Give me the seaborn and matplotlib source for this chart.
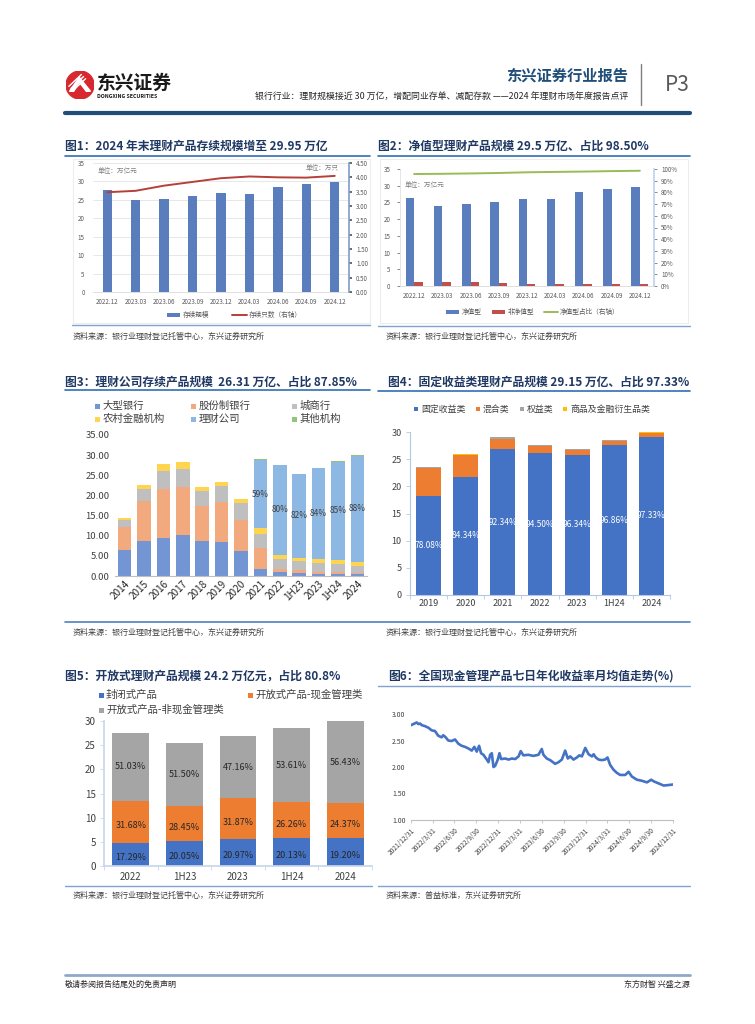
import numpy as np
import pandas as pd
import matplotlib
matplotlib.use('Agg')
import matplotlib.pyplot as plt
import seaborn as sns
from matplotlib.patches import Rectangle, Circle, Polygon
from matplotlib.lines import Line2D

# ---------------- Data ----------------
c1_quarters = ['2022.12', '2023.03', '2023.06', '2023.09', '2023.12', '2024.03', '2024.06', '2024.09', '2024.12']
c1_scale = [27.6, 24.95, 25.3, 25.95, 26.85, 26.7, 28.5, 29.3, 29.95]
c1_count = [3.48, 3.53, 3.71, 3.84, 3.97, 4.03, 4.00, 3.99, 4.05]
c1_left_ticks = [0, 5, 10, 15, 20, 25, 30, 35]
c1_right_ticks = [0.0, 0.5, 1.0, 1.5, 2.0, 2.5, 3.0, 3.5, 4.0, 4.5]

c2_quarters = ['2022.12', '2023.03', '2023.06', '2023.09', '2023.12', '2024.03', '2024.06', '2024.09', '2024.12']
c2_nav = [26.4, 23.8, 24.4, 25.2, 26.1, 26.0, 28.0, 28.9, 29.5]
c2_nonnav = [1.3, 1.1, 1.1, 0.9, 0.6, 0.6, 0.6, 0.5, 0.45]
c2_ratio = [95.7, 95.9, 96.2, 96.6, 97.2, 97.5, 97.8, 98.2, 98.5]
c2_types = ['净值型', '非净值型']

c3_years = ['2014', '2015', '2016', '2017', '2018', '2019', '2020', '2021', '2022', '1H23', '2023', '1H24', '2024']
c3_big = [6.5, 8.8, 9.5, 10.1, 8.6, 8.5, 6.1, 1.8, 0.9, 0.8, 0.6, 0.6, 0.4]
c3_joint = [5.6, 9.8, 12.2, 11.95, 8.8, 9.8, 7.8, 5.2, 0.9, 0.7, 0.4, 0.4, 0.3]
c3_city = [1.7, 3.1, 4.3, 4.55, 3.65, 4.1, 4.2, 3.5, 2.5, 2.1, 2.3, 2.1, 1.9]
c3_rural = [0.5, 0.9, 1.8, 1.7, 1.0, 1.0, 1.0, 1.3, 1.0, 0.9, 0.9, 0.9, 0.9]
c3_wmc = [0, 0, 0, 0, 0, 0, 0, 17.1, 22.2, 20.8, 22.5, 24.4, 26.3]
c3_other = [0, 0, 0, 0, 0, 0, 0, 0.1, 0.15, 0.1, 0.1, 0.1, 0.15]
c3_share = ['', '', '', '', '', '', '', '59%', '80%', '82%', '84%', '85%', '88%']
c3_names = ['大型银行', '股份制银行', '城商行', '农村金融机构', '理财公司', '其他机构']

c4_years = ['2019', '2020', '2021', '2022', '2023', '1H24', '2024']
c4_fixed = [18.3, 21.8, 26.8, 26.1, 25.8, 27.6, 29.15]
c4_mixed = [5.0, 3.9, 2.0, 1.4, 0.9, 0.8, 0.65]
c4_equity = [0.2, 0.1, 0.2, 0.1, 0.1, 0.1, 0.05]
c4_commod = [0.03, 0.1, 0.02, 0.02, 0.1, 0.05, 0.15]
c4_share = ['78.08%', '84.34%', '92.34%', '94.50%', '96.34%', '96.86%', '97.33%']
c4_names = ['固定收益类', '混合类', '权益类', '商品及金融衍生品类']

c5_years = ['2022', '1H23', '2023', '1H24', '2024']
c5_closed = [4.77, 5.09, 5.62, 5.74, 5.75]
c5_cash = [8.74, 7.23, 8.54, 7.48, 7.30]
c5_noncash = [14.08, 13.08, 12.64, 15.28, 16.90]
c5_closed_lbl = ['17.29%', '20.05%', '20.97%', '20.13%', '19.20%']
c5_cash_lbl = ['31.68%', '28.45%', '31.87%', '26.26%', '24.37%']
c5_noncash_lbl = ['51.03%', '51.50%', '47.16%', '53.61%', '56.43%']
c5_names = ['封闭式产品', '开放式产品-现金管理类', '开放式产品-非现金管理类']

c6_dates = ['2021-12-31', '2022-01-10', '2022-01-24', '2022-01-31', '2022-02-07', '2022-02-14', '2022-02-28',
            '2022-03-14', '2022-03-28', '2022-04-10', '2022-04-24', '2022-05-08', '2022-05-15', '2022-05-25',
            '2022-06-05', '2022-06-19', '2022-07-03', '2022-07-17', '2022-07-31', '2022-08-14', '2022-08-28',
            '2022-09-11', '2022-09-22', '2022-10-02', '2022-10-12', '2022-10-20', '2022-10-30', '2022-11-13',
            '2022-11-20', '2022-11-27', '2022-12-04', '2022-12-11', '2022-12-18', '2022-12-29', '2023-01-05',
            '2023-01-12', '2023-01-29', '2023-02-12', '2023-02-26', '2023-03-12', '2023-03-26', '2023-04-04',
            '2023-04-15', '2023-05-06', '2023-05-27', '2023-06-17', '2023-07-01', '2023-07-08', '2023-07-22',
            '2023-08-05', '2023-08-26', '2023-09-09', '2023-09-23', '2023-10-07', '2023-10-18', '2023-10-28',
            '2023-11-11', '2023-11-25', '2023-12-05', '2023-12-16', '2023-12-30', '2024-01-13', '2024-01-27',
            '2024-02-03', '2024-02-12', '2024-02-24', '2024-03-08', '2024-03-22', '2024-04-01', '2024-04-12',
            '2024-04-26', '2024-05-10', '2024-05-24', '2024-06-14', '2024-06-28', '2024-07-12', '2024-08-02',
            '2024-08-23', '2024-09-13', '2024-10-01', '2024-10-11', '2024-11-01', '2024-11-22', '2024-12-13',
            '2024-12-31']
c6_yield = [2.79, 2.81, 2.84, 2.81, 2.82, 2.79, 2.77, 2.74, 2.69, 2.68, 2.59, 2.56, 2.60, 2.56,
            2.50, 2.49, 2.52, 2.44, 2.40, 2.38, 2.35, 2.31, 2.38, 2.29, 2.40, 2.26, 2.23, 2.14,
            2.09, 2.23, 2.26, 2.00, 2.02, 2.14, 2.26, 2.15, 2.16, 2.14, 2.16, 2.15, 2.20, 2.30,
            2.22, 2.23, 2.21, 2.23, 2.34, 2.23, 2.16, 2.13, 2.06, 2.09, 2.14, 2.31, 2.16, 2.20,
            2.14, 2.18, 2.22, 2.20, 2.36, 2.24, 2.20, 2.24, 2.18, 2.14, 2.13, 2.14, 2.18, 2.04,
            1.95, 1.89, 1.85, 1.85, 1.91, 1.82, 1.76, 1.74, 1.71, 1.76, 1.73, 1.69, 1.65, 1.66,
            1.67]
c6_tick_dates = ['2021-12-31', '2022-03-31', '2022-06-30', '2022-09-30', '2022-12-31', '2023-03-31', '2023-06-30',
                 '2023-09-30', '2023-12-31', '2024-03-31', '2024-06-30', '2024-09-30', '2024-12-31']
c6_tick_labels = ['2021/12/31', '2022/3/31', '2022/6/30', '2022/9/30', '2022/12/31', '2023/3/31', '2023/6/30',
                  '2023/9/30', '2023/12/31', '2024/3/31', '2024/6/30', '2024/9/30', '2024/12/31']

# ---------------- Style ----------------
sns.set_theme(style='white')
plt.rcParams['font.family'] = ['Noto Sans CJK SC', 'DejaVu Sans']
plt.rcParams['axes.unicode_minus'] = False

W, H = 755, 1024
fig = plt.figure(figsize=(7.55, 10.24), dpi=100)
fig.patch.set_facecolor('white')

TITLE_C = '#1F3864'
TICK_C = '#595959'
SRC_C = '#404040'


def ax_at(x0, y0, x1, y1):
    return fig.add_axes([x0 / W, 1 - y1 / H, (x1 - x0) / W, (y1 - y0) / H])


def ftext(x, y, s, **kw):
    kw.setdefault('va', 'center')
    fig.text(x / W, 1 - y / H, s, **kw)


def hline(x0, x1, y, color, lw):
    fig.add_artist(Line2D([x0 / W, x1 / W], [1 - y / H, 1 - y / H], color=color, lw=lw,
                          transform=fig.transFigure))


def leg_sq(x, y, color, label, fs, w=5, h=5, gap=3, tc='#404040'):
    fig.add_artist(Rectangle((x / W, 1 - (y + h / 2) / H), w / W, h / H, color=color,
                             transform=fig.transFigure, lw=0))
    ftext(x + w + gap, y, label, fontsize=fs, ha='left', color=tc)


def leg_line(x, y, color, label, fs, length=14, gap=2, lw=1.5, tc='#404040'):
    fig.add_artist(Line2D([x / W, (x + length) / W], [1 - y / H, 1 - y / H], color=color, lw=lw,
                          transform=fig.transFigure))
    ftext(x + length + gap, y, label, fontsize=fs, ha='left', color=tc)


def stacked(ax, cats, layers, colors, width):
    cum = np.cumsum(np.array(layers, dtype=float), axis=0)
    for i in range(len(layers) - 1, -1, -1):
        df = pd.DataFrame({'cat': cats, 'v': cum[i]})
        sns.barplot(data=df, x='cat', y='v', order=cats, color=colors[i], saturation=1,
                    width=width, errorbar=None, linewidth=0, ax=ax)
    return cum


# ---------------- Header ----------------
lax = ax_at(66, 71, 94, 99)
lax.set_xlim(-1, 1)
lax.set_ylim(-1, 1)
lax.set_aspect('equal')
lax.axis('off')
lax.add_patch(Circle((0, 0), 1, color='#D7282F'))
lax.add_patch(Polygon([[-0.75, -0.45], [-0.05, 0.55], [0.75, -0.45], [0.45, -0.45], [-0.05, 0.2], [-0.45, -0.45]],
                      color='white'))
for k in range(3):
    lax.plot([-0.8 + 0.15 * k, 0.1 + 0.15 * k], [-0.1 - 0.15 * k, 0.75 - 0.15 * k], color='white', lw=1.0)
ftext(97, 83, '东兴证券', fontsize=13.5, fontweight='bold', color='#1A1A1A', ha='left')
ftext(97, 96, 'DONGXING SECURITIES', fontsize=3.8, fontweight='bold', color='#1A1A1A', ha='left')
ftext(628, 76, '东兴证券行业报告', fontsize=11, fontweight='bold', color='#1F4E79', ha='right')
ftext(628, 97, '银行行业：理财规模接近 30 万亿，增配同业存单、减配存款 ——2024 年理财市场年度报告点评',
      fontsize=6.4, color='#262626', ha='right')
fig.add_artist(Line2D([641 / W, 641 / W], [1 - 64 / H, 1 - 105 / H], color='#7F7F7F', lw=1.0,
                      transform=fig.transFigure))
ftext(665, 85, 'P3', fontsize=15, color='#595959', ha='left')
hline(65, 690, 113, '#1F4E79', 3)

# ---------------- Titles & lines ----------------
TFS = 8.5
ftext(65, 146, '图1：2024 年末理财产品存续规模增至 29.95 万亿', fontsize=TFS, fontweight='bold', color=TITLE_C, ha='left')
ftext(378, 146, '图2：净值型理财产品规模 29.5 万亿、占比 98.50%', fontsize=TFS, fontweight='bold', color=TITLE_C, ha='left')
ftext(65, 382, '图3：理财公司存续产品规模  26.31 万亿、占比 87.85%', fontsize=TFS, fontweight='bold', color=TITLE_C, ha='left')
ftext(388, 382, '图4：固定收益类理财产品规模 29.15 万亿、占比 97.33%', fontsize=TFS, fontweight='bold', color=TITLE_C, ha='left')
ftext(65, 676, '图5：开放式理财产品规模 24.2 万亿元，占比 80.8%', fontsize=TFS, fontweight='bold', color=TITLE_C, ha='left')
ftext(388, 676, '图6：全国现金管理产品七日年化收益率月均值走势(%)', fontsize=TFS, fontweight='bold', color=TITLE_C, ha='left')

UL = '#2F6EB5'
hline(65, 370, 156, UL, 1.2)
hline(378, 690, 156, UL, 1.2)
hline(72, 370, 325, '#7FA3CC', 1.0)
hline(378, 690, 326, '#7FA3CC', 1.0)
hline(65, 370, 390, UL, 1.2)
hline(378, 690, 391, UL, 1.2)
hline(65, 690, 622, '#4F81BD', 1.2)
hline(378, 690, 686, '#7FA3CC', 1.0)
hline(65, 372, 886, '#7FA3CC', 1.0)
hline(378, 690, 886, '#7FA3CC', 1.0)

SRC = '资料来源：银行业理财登记托管中心，东兴证券研究所'
SFS = 5.8
ftext(73, 336, SRC, fontsize=SFS, color=SRC_C, ha='left', style='italic')
ftext(386, 336, SRC, fontsize=SFS, color=SRC_C, ha='left', style='italic')
ftext(73, 632, SRC, fontsize=SFS, color=SRC_C, ha='left', style='italic')
ftext(386, 632, SRC, fontsize=SFS, color=SRC_C, ha='left', style='italic')
ftext(73, 895, SRC, fontsize=SFS, color=SRC_C, ha='left', style='italic')
ftext(386, 895, '资料来源：普益标准，东兴证券研究所', fontsize=SFS, color=SRC_C, ha='left', style='italic')

# Footer
hline(65, 690, 975, '#8EA9C8', 2.0)
ftext(65, 984, '敬请参阅报告结尾处的免责声明', fontsize=5.8, color='#262626', ha='left')
ftext(690, 984, '东方财智 兴盛之源', fontsize=5.8, color='#262626', ha='right')

# Light frames of chart 1/2
for (x0, y0, x1, y1) in [(73, 159, 370, 323), (380, 159, 688, 323)]:
    fig.add_artist(Rectangle((x0 / W, 1 - y1 / H), (x1 - x0) / W, (y1 - y0) / H, fill=False,
                             edgecolor='#EDEDED', lw=0.8, transform=fig.transFigure))

# ---------------- Chart 1 ----------------
BLUE1 = '#5A7EBD'
RED1 = '#B5403A'
ax1 = ax_at(93, 163, 349, 292)
df1 = pd.DataFrame({'q': c1_quarters, 'v': c1_scale})
sns.barplot(data=df1, x='q', y='v', order=c1_quarters, color=BLUE1, saturation=1, width=0.33,
            errorbar=None, linewidth=0, ax=ax1, zorder=3)
ax1.set_ylim(0, 35)
ax1.set_yticks(c1_left_ticks)
ax1.set_yticklabels([str(t) for t in c1_left_ticks], fontsize=4.5, color=TICK_C)
ax1.tick_params(axis='x', labelsize=4.5, colors=TICK_C, length=0, pad=4)
ax1.tick_params(axis='y', length=0, pad=6)
ax1.grid(axis='y', color='#E3E3E3', lw=0.6, zorder=0)
ax1.set_axisbelow(True)
for s in ['left', 'top', 'right']:
    ax1.spines[s].set_visible(False)
ax1.spines['bottom'].set_color('#D9D9D9')
ax1.spines['bottom'].set_linewidth(0.6)
ax1.set_xlabel('')
ax1.set_ylabel('')
ax1b = ax1.twinx()
sns.lineplot(x=np.arange(len(c1_count)), y=c1_count, ax=ax1b, color=RED1, lw=1.4)
ax1b.set_ylim(0, 4.5)
ax1b.set_yticks(c1_right_ticks)
ax1b.set_yticklabels([f'{t:.2f}' for t in c1_right_ticks], fontsize=4.5, color=TICK_C)
ax1b.tick_params(axis='y', length=2, pad=3, colors=TICK_C, direction='out')
for s in ['left', 'top', 'bottom']:
    ax1b.spines[s].set_visible(False)
ax1b.spines['right'].set_color('#7F9CCB')
ax1b.spines['right'].set_linewidth(1.2)
ax1b.set_xlim(-0.5, len(c1_quarters) - 0.5)
ax1.set_xlim(-0.5, len(c1_quarters) - 0.5)
ax1.text(0.02, 0.97, '单位：万亿元', transform=ax1.transAxes, fontsize=4.8, color='#7F7F7F', va='top')
ax1.text(0.96, 0.99, '单位：万只', transform=ax1.transAxes, fontsize=4.8, color='#7F7F7F', va='top', ha='right')
leg_sq(167, 315, BLUE1, '存续规模', 4.8, w=13, h=4, tc='#595959')
leg_line(232, 315, RED1, '存续只数（右轴）', 4.8, length=15, lw=1.4, tc='#595959')

# ---------------- Chart 2 ----------------
RED2 = '#C0504D'
GREEN2 = '#9BBB59'
ax2 = ax_at(400, 169, 654, 286)
df2 = pd.DataFrame({'q': c2_quarters * 2, 'v': c2_nav + c2_nonnav,
                    't': [c2_types[0]] * len(c2_nav) + [c2_types[1]] * len(c2_nonnav)})
sns.barplot(data=df2, x='q', y='v', hue='t', order=c2_quarters, hue_order=c2_types,
            palette=[BLUE1, RED2], saturation=1, width=0.6, errorbar=None, linewidth=0,
            legend=False, ax=ax2)
ax2.set_ylim(0, 35)
ax2.set_yticks(c1_left_ticks)
ax2.set_yticklabels([str(t) for t in c1_left_ticks], fontsize=4.5, color=TICK_C)
ax2.tick_params(axis='x', labelsize=4.5, colors=TICK_C, length=0, pad=4)
ax2.tick_params(axis='y', length=2, pad=5, colors=TICK_C, direction='out', width=0.5)
ax2.spines['left'].set_color('#E0E0E0')
ax2.spines['left'].set_linewidth(0.6)
ax2.spines['top'].set_visible(False)
ax2.spines['right'].set_visible(False)
ax2.spines['bottom'].set_color('#D9D9D9')
ax2.spines['bottom'].set_linewidth(0.6)
ax2.set_xlabel('')
ax2.set_ylabel('')
ax2b = ax2.twinx()
sns.lineplot(x=np.arange(len(c2_ratio)), y=c2_ratio, ax=ax2b, color=GREEN2, lw=1.4)
ax2b.set_ylim(0, 100)
ax2b.set_yticks(list(range(0, 101, 10)))
ax2b.set_yticklabels([f'{t}%' for t in range(0, 101, 10)], fontsize=4.5, color=TICK_C)
ax2b.tick_params(axis='y', length=2, pad=3, colors=TICK_C, direction='out', width=0.5)
for s in ['left', 'top', 'bottom']:
    ax2b.spines[s].set_visible(False)
ax2b.spines['right'].set_color('#BDD1EA')
ax2b.spines['right'].set_linewidth(1.2)
ax2b.set_xlim(-0.5, len(c2_quarters) - 0.5)
ax2.set_xlim(-0.5, len(c2_quarters) - 0.5)
ax2.text(0.02, 0.865, '单位：万亿元', transform=ax2.transAxes, fontsize=4.8, color='#7F7F7F', va='center')
leg_sq(446, 312, BLUE1, '净值型', 4.8, w=13, h=4, tc='#595959')
leg_sq(492, 312, RED2, '非净值型', 4.8, w=13, h=4, tc='#595959')
leg_line(544, 312, GREEN2, '净值型占比（右轴）', 4.8, length=14, lw=1.4, tc='#595959')

# ---------------- Chart 3 ----------------
C3_COLORS = ['#7395D4', '#F2A97E', '#BFBFBF', '#FFD54F', '#8DB8E3', '#93C47D']
ax3 = ax_at(115, 435, 367, 576)
layers3 = [c3_big, c3_joint, c3_city, c3_rural, c3_wmc, c3_other]
cum3 = stacked(ax3, c3_years, layers3, C3_COLORS, 0.7)
ax3.set_ylim(0, 35)
ax3.set_xlim(-0.5, len(c3_years) - 0.5)
ax3.set_yticks(np.arange(0, 35.01, 5))
ax3.set_yticklabels([f'{v:.2f}' for v in np.arange(0, 35.01, 5)], fontsize=6.8, color='#404040')
ax3.tick_params(axis='y', length=0, pad=4)
ax3.tick_params(axis='x', length=0, pad=2)
ax3.set_xticks(range(len(c3_years)))
ax3.set_xticklabels(c3_years, rotation=45, ha='right', rotation_mode='anchor', fontsize=7.2, color='#262626')
for s in ['left', 'top', 'right']:
    ax3.spines[s].set_visible(False)
ax3.spines['bottom'].set_color('#BFBFBF')
ax3.spines['bottom'].set_linewidth(0.8)
ax3.set_xlabel('')
ax3.set_ylabel('')
for i, lbl in enumerate(c3_share):
    if lbl:
        mid = cum3[3][i] + c3_wmc[i] / 2
        ax3.text(i, mid, lbl, ha='center', va='center', fontsize=6, color='#404040')
leg_pos3 = [(95, 406), (191, 406), (292, 406), (95, 419), (191, 419), (292, 419)]
for (lx, ly), col, nm in zip(leg_pos3, C3_COLORS, c3_names):
    leg_sq(lx, ly, col, nm, 7.5, w=5, h=5, gap=3)

# ---------------- Chart 4 ----------------
C4_COLORS = ['#4472C4', '#ED7D31', '#A5A5A5', '#FFC000']
ax4 = ax_at(410, 432, 670, 595)
cum4 = stacked(ax4, c4_years, [c4_fixed, c4_mixed, c4_equity, c4_commod], C4_COLORS, 0.67)
ax4.set_ylim(0, 30)
ax4.set_xlim(-0.5, len(c4_years) - 0.5)
ax4.set_yticks(range(0, 31, 5))
ax4.set_yticklabels([str(v) for v in range(0, 31, 5)], fontsize=6.5, color='#404040')
ax4.tick_params(axis='y', length=3, width=0.6, color='#B4C7E7', direction='out', pad=3, left=True)
ax4.tick_params(axis='x', labelsize=6.5, colors='#404040', length=0, pad=3)
ax4.set_xticks(np.arange(-0.5, len(c4_years)), minor=True)
ax4.tick_params(axis='x', which='minor', length=3, width=0.6, color='#B4C7E7', direction='out', bottom=True)
ax4.spines['left'].set_color('#B4C7E7')
ax4.spines['bottom'].set_color('#B4C7E7')
ax4.spines['left'].set_linewidth(0.8)
ax4.spines['bottom'].set_linewidth(0.8)
ax4.spines['top'].set_visible(False)
ax4.spines['right'].set_visible(False)
ax4.set_xlabel('')
ax4.set_ylabel('')
for i, lbl in enumerate(c4_share):
    ax4.text(i, c4_fixed[i] / 2, lbl, ha='center', va='center', fontsize=6, color='white')
leg_pos4 = [414, 476, 520, 563]
for lx, col, nm in zip(leg_pos4, C4_COLORS, c4_names):
    leg_sq(lx, 409, col, nm, 6.4, w=4, h=4, gap=3)

# ---------------- Chart 5 ----------------
C5_COLORS = ['#4472C4', '#ED7D31', '#A5A5A5']
ax5 = ax_at(104, 721, 372, 866)
cum5 = stacked(ax5, c5_years, [c5_closed, c5_cash, c5_noncash], C5_COLORS, 0.69)
ax5.set_ylim(0, 30)
ax5.set_xlim(-0.5, len(c5_years) - 0.5)
ax5.set_yticks(range(0, 31, 5))
ax5.set_yticklabels([str(v) for v in range(0, 31, 5)], fontsize=7, color='#404040')
ax5.tick_params(axis='y', length=3, width=0.6, color='#C9D6EA', direction='out', pad=3, left=True)
ax5.tick_params(axis='x', labelsize=7, colors='#404040', length=0, pad=4)
ax5.set_xticks(np.arange(-0.5, len(c5_years)), minor=True)
ax5.tick_params(axis='x', which='minor', length=3, width=0.6, color='#C9D6EA', direction='out', bottom=True)
ax5.spines['left'].set_color('#C9D6EA')
ax5.spines['bottom'].set_color('#C9D6EA')
ax5.spines['top'].set_visible(False)
ax5.spines['right'].set_visible(False)
ax5.set_xlabel('')
ax5.set_ylabel('')
for i in range(len(c5_years)):
    ax5.text(i, c5_closed[i] / 2 - 0.6, c5_closed_lbl[i], ha='center', va='center', fontsize=6.5, color='#262626')
    ax5.text(i, cum5[0][i] + c5_cash[i] / 2 - 0.8, c5_cash_lbl[i], ha='center', va='center', fontsize=6.5, color='#262626')
    ax5.text(i, cum5[1][i] + c5_noncash[i] / 2, c5_noncash_lbl[i], ha='center', va='center', fontsize=6.5, color='#262626')
leg_sq(99, 695, C5_COLORS[0], c5_names[0], 7.5, w=5, h=5, gap=2)
leg_sq(248, 695, C5_COLORS[1], c5_names[1], 7.5, w=5, h=5, gap=2)
leg_sq(99, 710, C5_COLORS[2], c5_names[2], 7.5, w=5, h=5, gap=2)

# ---------------- Chart 6 ----------------
ax6 = ax_at(411, 714, 673, 820)
df6 = pd.DataFrame({'d': pd.to_datetime(c6_dates), 'y': c6_yield})
sns.lineplot(data=df6, x='d', y='y', color='#4472C4', lw=1.9, ax=ax6)
ax6.set_ylim(1.0, 3.0)
ax6.set_xlim(pd.Timestamp(c6_dates[0]), pd.Timestamp(c6_dates[-1]))
ax6.set_yticks([1.0, 1.5, 2.0, 2.5, 3.0])
ax6.set_yticklabels(['1.00', '1.50', '2.00', '2.50', '3.00'], fontsize=5, color='#404040')
ax6.tick_params(axis='y', length=0, pad=4)
ax6.set_xticks(pd.to_datetime(c6_tick_dates))
ax6.set_xticklabels(c6_tick_labels, rotation=45, ha='right', rotation_mode='anchor', fontsize=4.8, color='#404040')
ax6.tick_params(axis='x', length=2.5, width=0.6, color='#BFBFBF', direction='out', pad=2, bottom=True)
for s in ['left', 'top', 'right']:
    ax6.spines[s].set_visible(False)
ax6.spines['bottom'].set_color('#BFBFBF')
ax6.spines['bottom'].set_linewidth(0.8)
ax6.set_xlabel('')
ax6.set_ylabel('')

fig.savefig('out.png', dpi=100, facecolor='white')
